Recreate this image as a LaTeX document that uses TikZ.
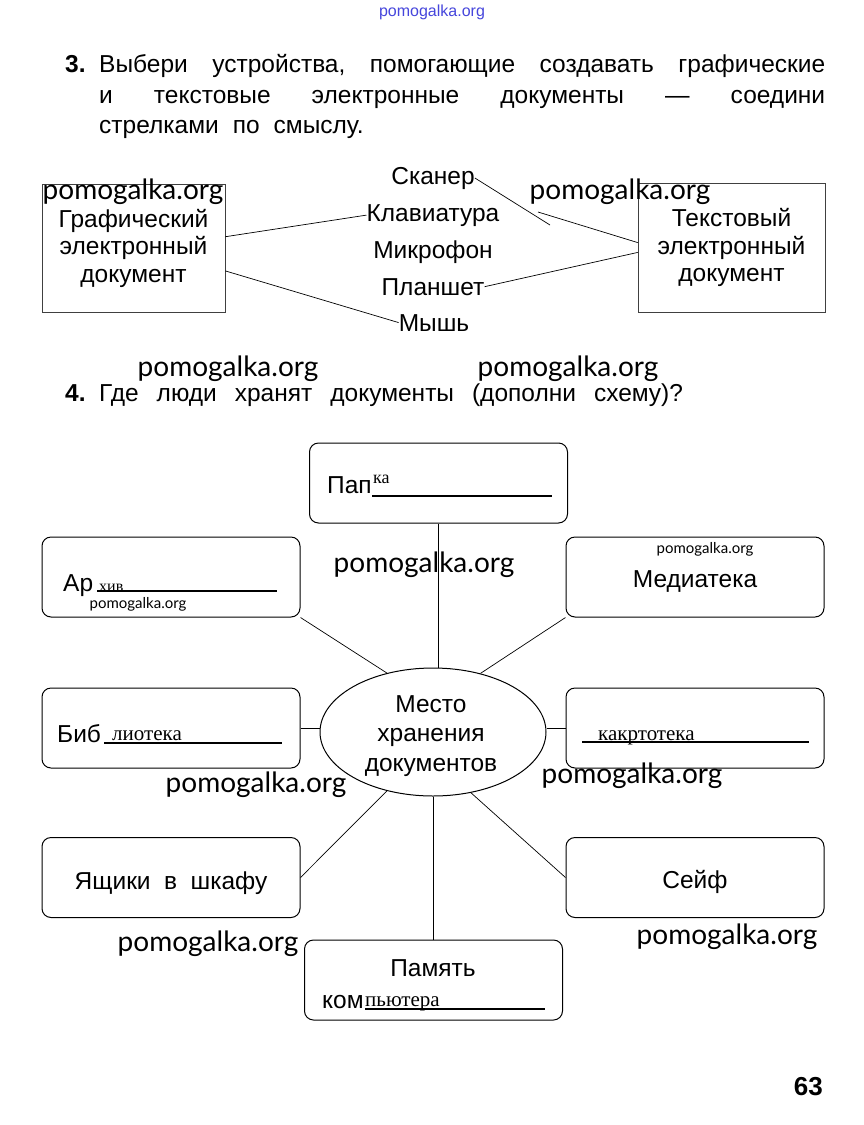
\documentclass[tikz,border=0pt]{standalone}
\usepackage{fontspec}
\setmainfont{Liberation Sans}
\newfontfamily\wmfont{Lato}
\newfontfamily\handfont{Liberation Serif}
\usetikzlibrary{shapes.geometric}
\tikzset{
  head/.style={inner sep=0pt, anchor=base west, font=\fontsize{24.5}{31}\selectfont},
  tbox/.style={draw=black!75, line width=0.6pt, inner sep=0pt, align=center,
    font=\fontsize{24.5}{27.5}\selectfont},
  rbox/.style={draw, rounded corners=9pt, line width=1pt, minimum width=258pt,
    minimum height=80pt, inner sep=0pt, font=\fontsize{24.5}{27.5}\selectfont},
  word/.style={inner sep=0pt, anchor=base, font=\fontsize{24.5}{27.5}\selectfont},
  hand/.style={inner sep=0pt, anchor=base west, font=\handfont\fontsize{21}{23}\selectfont},
  conn/.style={line width=0.7pt},
  fill line/.style={line width=1.1pt},
  wm/.style={inner sep=0pt, font=\wmfont\fontsize{28}{30}\selectfont},
  wmsmall/.style={inner sep=0pt, font=\wmfont\fontsize{15}{17}\selectfont},
}
\begin{document}
\begin{tikzpicture}[x=1pt,y=-1pt]
\fill[white] (0,0) rectangle (863,1125);
\useasboundingbox (0,0) rectangle (863,1125);

% top watermark
\node[inner sep=0pt, text={rgb,255:red,70;green,70;blue,220}, font=\fontsize{16}{18}\selectfont] (topwm) at (432,12) {pomogalka.org};

% task 3 header
\node[head, font=\bfseries\fontsize{24.5}{31}\selectfont] (n3) at (65,72) {3.};
\node[head] (h1) at (99,72) {\hbox to 726pt{Выбери\hfill устройства,\hfill помогающие\hfill создавать\hfill графические}};
\node[head] (h2) at (99,103) {\hbox to 726pt{и\hfill текстовые\hfill электронные\hfill документы\hfill ---\hfill соедини}};
\node[head] (h3) at (99,133) {стрелками\hspace{14pt}по\hspace{14pt}смыслу.};

% task 3 boxes
\node[tbox, minimum width=183pt, minimum height=128pt] (gl) at (133.5,248) {Графический\\электронный\\документ};
\node[tbox, minimum width=187pt, minimum height=129pt] (tb) at (731.5,247.5) {Текстовый\\электронный\\документ};

% devices
\node[word] (skaner) at (433,184) {Сканер};
\node[word] (klav) at (433,221) {Клавиатура};
\node[word] (mikro) at (433,258) {Микрофон};
\node[word] (plan) at (433,295) {Планшет};
\node[word] (mysh) at (434,331) {Мышь};

\coordinate (s1) at (550,225);
\coordinate (s2) at (538,212);
\draw[conn] (gl.7.5) -- (klav.west);
\draw[conn] (gl.-14) -- (mysh.west);
\draw[conn] (skaner.east) -- (s1);
\draw[conn] (s2) -- (tb.177);
\draw[conn] (plan.east) -- (tb.183);

% task 4 header
\node[head, font=\bfseries\fontsize{24.5}{31}\selectfont] (n4) at (65,401) {4.};
\node[head] (h4) at (99,401) {Где\hspace{18pt}люди\hspace{18pt}хранят\hspace{18pt}документы\hspace{18pt}(дополни\hspace{18pt}схему)?};

% task 4 boxes
\node[rbox] (papka) at (438.5,483) {};
\node[rbox] (arch) at (171,577) {};
\node[rbox] (media) at (695,577) {};
\node[rbox] (bib) at (171,728) {};
\node[rbox] (kart) at (695,728) {};
\node[rbox] (yash) at (171,877.5) {};
\node[rbox] (seif) at (695,877.5) {};
\node[rbox] (pam) at (433.5,980) {};

% centre ellipse
\node[ellipse, draw, line width=1pt, minimum width=226pt, minimum height=128pt, inner sep=0pt] (ell) at (433,732) {};
\node[inner sep=0pt, align=center, font=\fontsize{24.5}{29.5}\selectfont] (ellt) at (431,736) {Место\\хранения\\документов};

% box contents
\node[word] (mediat) at (695,587) {Медиатека};
\node[word] (yasht) at (171,889) {Ящики\hspace{0.55em}в\hspace{0.55em}шкафу};
\node[word] (seift) at (695,888) {Сейф};

\node[word, anchor=base west] (papt) at (327,493) {Пап};
\draw[fill line] (372,496) -- (552,496);
\node[hand, font=\handfont\fontsize{18}{20}\selectfont] (papk) at (373,483) {ка};

\node[word, anchor=base west] (art) at (63,591) {Ар};
\draw[fill line] (97,591) -- (277,591);
\node[hand, font=\handfont\fontsize{16}{18}\selectfont] (arh) at (99,591) {хив};

\node[word, anchor=base west] (bibt) at (57,742) {Биб};
\draw[fill line] (104,743) -- (282,743);
\node[hand] (bibh) at (112,740) {лиотека};

\draw[fill line] (582,742) -- (809,742);
\node[hand] (karth) at (598,740) {какртотека};

\node[word] (pamt) at (433,976) {Память};
\node[word, anchor=base west] (komt) at (322,1008) {ком};
\draw[fill line] (365,1009) -- (545,1009);
\node[hand] (pamh) at (365,1006) {пьютера};

% connectors to the centre
\draw[conn] (papka.south) -- (papka.south |- ell.north);
\draw[conn] (arch.south east) -- (ell.128);
\draw[conn] (media.south west) -- (ell.51);
\draw[conn] (bib.east) -- (bib.east -| ell.west);
\draw[conn] (kart.west) -- (kart.west -| ell.east);
\draw[conn] (yash.east) -- (ell.232);
\draw[conn] (seif.west) -- (ell.302);
\draw[conn] (pam.north) -- (pam.north |- ell.south);

% watermarks
\node[wm] (w1) at (133,192) {pomogalka.org};
\node[wm] (w2) at (620,192) {pomogalka.org};
\node[wm] (w3) at (228,369) {pomogalka.org};
\node[wm] (w4) at (568,369) {pomogalka.org};
\node[wm] (w5) at (424,565) {pomogalka.org};
\node[wm] (w6) at (256,785) {pomogalka.org};
\node[wm] (w7) at (632,776) {pomogalka.org};
\node[wm] (w8) at (208,944) {pomogalka.org};
\node[wm] (w9) at (727,937) {pomogalka.org};
\node[wmsmall] (w10) at (705,549) {pomogalka.org};
\node[wmsmall] (w11) at (138,604) {pomogalka.org};

% page number
\node[inner sep=0pt, anchor=base east, font=\bfseries\fontsize{26}{28}\selectfont] (page) at (823,1095) {63};
\end{tikzpicture}
\end{document}
